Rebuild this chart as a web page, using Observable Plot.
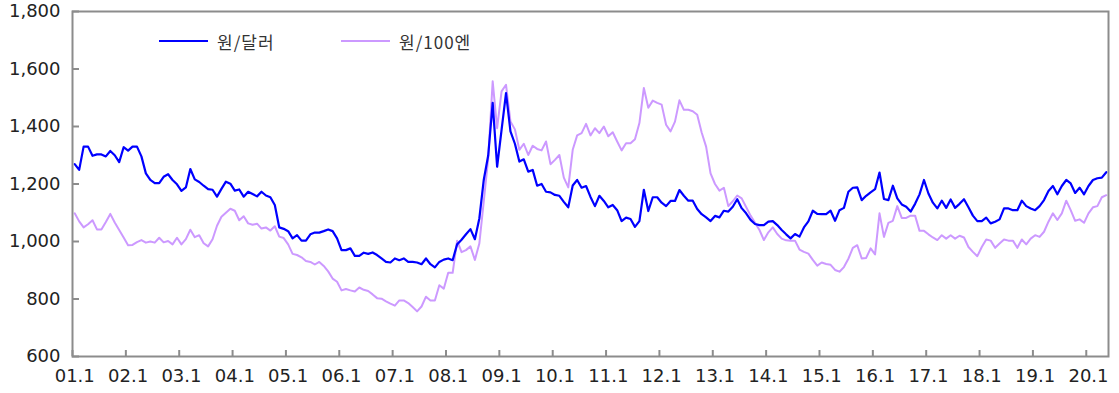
<!DOCTYPE html>
<html>
<head>
<meta charset="utf-8">
<script src="https://cdn.jsdelivr.net/npm/d3@7"></script>
<script src="https://cdn.jsdelivr.net/npm/@observablehq/plot@0.6"></script>
<style>
  body { margin: 0; background: #fff; }
  #wrap { position: relative; width: 1119px; height: 393px; }
  .leg { position: absolute; top: 30px; height: 22px; display: flex; align-items: center;
         font-family: "Noto Sans CJK KR", "Noto Sans", sans-serif; font-size: 17px; letter-spacing: 1px; color: #333; }
  .leg .sw { display: inline-block; width: 49px; height: 0; border-top: 2px solid; margin-right: 9px; }
</style>
</head>
<body>
<div id="wrap"></div>
<script>
// Series names (legend)
const seriesNames = ["원/달러", "원/100엔"];
const seriesColors = ["#0000ff", "#cc99ff"];

// Monthly values, 2001.1 – 2020.5
const usd = [
  1269,1249,1330,1330,1298,1303,1303,1296,1315,1300,1276,1328, // 2001
  1316,1330,1330,1296,1237,1214,1203,1203,1225,1234,1214,1199, // 2002
  1176,1188,1252,1216,1207,1194,1182,1180,1156,1183,1208,1201, // 2003
  1177,1181,1156,1173,1165,1157,1173,1160,1154,1127,1049,1044, // 2004
  1036,1011,1022,1003,1003,1025,1031,1031,1036,1042,1036,1011, // 2005
  970,970,976,950,950,961,957,962,953,941,929,927,             // 2006
  941,935,941,929,929,927,921,941,921,910,929,937,             // 2007
  941,935,990,1006,1025,1043,1008,1080,1215,1300,1482,1260,    // 2008
  1388,1516,1383,1340,1278,1286,1243,1249,1194,1200,1173,1171, // 2009
  1162,1159,1138,1119,1195,1214,1187,1193,1155,1123,1159,1141, // 2010
  1119,1127,1109,1071,1083,1078,1051,1071,1180,1106,1154,1154, // 2011
  1135,1123,1141,1141,1179,1159,1142,1142,1113,1095,1084,1071, // 2012
  1089,1084,1107,1104,1121,1147,1116,1098,1075,1061,1057,1057, // 2013
  1069,1071,1057,1040,1025,1011,1026,1017,1049,1070,1107,1096, // 2014
  1095,1095,1107,1072,1109,1117,1173,1187,1188,1144,1159,1171, // 2015
  1182,1240,1148,1144,1194,1150,1129,1121,1104,1131,1164,1214, // 2016
  1167,1135,1115,1142,1117,1146,1117,1131,1147,1119,1090,1071, // 2017
  1071,1083,1063,1069,1077,1115,1115,1109,1109,1142,1123,1115, // 2018
  1109,1123,1144,1176,1193,1164,1193,1214,1202,1169,1187,1164, // 2019
  1193,1214,1220,1222,1241                                     // 2020
];
const jpy = [
  1098,1070,1049,1060,1074,1042,1042,1068,1096,1066,1040,1014, // 2001
  987,988,998,1005,996,1000,996,1013,997,1002,990,1013,        // 2002
  990,1008,1041,1015,1022,994,983,1008,1055,1086,1100,1114,    // 2003
  1107,1074,1088,1063,1058,1062,1045,1049,1038,1053,1017,1012, // 2004
  990,957,953,945,932,929,920,929,915,896,871,860,             // 2005
  830,835,830,826,840,832,828,816,803,801,792,784,             // 2006
  777,795,795,786,772,757,774,808,795,795,848,836,             // 2007
  891,891,1003,963,970,983,936,993,1140,1290,1557,1394,        // 2008
  1522,1545,1417,1390,1319,1340,1301,1333,1322,1317,1348,1269, // 2009
  1284,1301,1222,1188,1319,1369,1377,1409,1369,1394,1377,1400, // 2010
  1366,1380,1348,1317,1342,1342,1356,1412,1534,1465,1490,1482, // 2011
  1476,1406,1383,1417,1491,1458,1458,1453,1441,1379,1330,1237, // 2012
  1200,1177,1187,1123,1140,1160,1150,1120,1090,1065,1040,1005, // 2013
  1032,1049,1026,1010,1004,1003,1003,972,964,958,936,916,      // 2014
  927,922,919,901,895,911,940,978,987,941,943,976,             // 2015
  955,1098,1016,1065,1072,1123,1082,1082,1090,1090,1037,1037,  // 2016
  1025,1014,1005,1022,1010,1022,1010,1020,1014,981,964,949,    // 2017
  981,1007,1003,978,993,1007,1003,1003,978,1007,990,1010,      // 2018
  1022,1016,1034,1069,1098,1075,1098,1142,1109,1072,1077,1065, // 2019
  1098,1119,1123,1154,1161                                     // 2020
];

// Axis ticks
const yTicks = [600, 800, 1000, 1200, 1400, 1600, 1800];
const xTickLabels = ["01.1","02.1","03.1","04.1","05.1","06.1","07.1","08.1","09.1","10.1",
                     "11.1","12.1","13.1","14.1","15.1","16.1","17.1","18.1","19.1","20.1"];

const W = 1119, H = 393, mL = 72, mR = 11, mT = 11, mB = 37;
const xTickPos = xTickLabels.map((_, k) => k * 12);   // January of each year (category boundary)
const axisColor = "#8c8c8c";

const chart = Plot.plot({
  width: W, height: H,
  marginLeft: mL, marginRight: mR, marginTop: mT, marginBottom: mB,
  style: { fontFamily: "DejaVu Sans", fontSize: "18px", color: "#222", background: "#fff", overflow: "visible" },
  x: { domain: [0, usd.length], axis: null },
  y: { domain: [600, 1800], axis: null },
  marks: [
    Plot.lineY(jpy, { x: (d, i) => i + 0.5, y: d => d, stroke: seriesColors[1], strokeWidth: 2 }),
    Plot.lineY(usd, { x: (d, i) => i + 0.5, y: d => d, stroke: seriesColors[0], strokeWidth: 2.2 }),
    Plot.frame({ stroke: axisColor, strokeWidth: 2 }),
    Plot.tickY(yTicks, { y: d => d, stroke: axisColor, strokeWidth: 2, insetRight: W - mL - mR - 7 }),
    Plot.tickX(xTickPos, { x: d => d, stroke: axisColor, strokeWidth: 2, insetTop: H - mT - mB - 6 }),
    Plot.axisY(yTicks, { tickSize: 0, tickPadding: 12, tickFormat: d3.format(","), fill: "#222" }),
    Plot.axisX(xTickPos.map(p => p + 0.5), {
      tickSize: 0, tickPadding: 13, fill: "#222",
      tickFormat: d => xTickLabels[Math.round((d - 0.5) / 12)]
    })
  ]
});

const wrap = document.getElementById("wrap");
wrap.appendChild(chart);

// Legend overlaid inside the plot area
const legendLeft = [159, 341];
seriesNames.forEach((name, k) => {
  const item = document.createElement("div");
  item.className = "leg";
  item.style.left = legendLeft[k] + "px";
  const sw = document.createElement("span");
  sw.className = "sw";
  sw.style.borderTopColor = seriesColors[k];
  const tx = document.createElement("span");
  tx.textContent = name;
  item.appendChild(sw);
  item.appendChild(tx);
  wrap.appendChild(item);
});
</script>
</body>
</html>
